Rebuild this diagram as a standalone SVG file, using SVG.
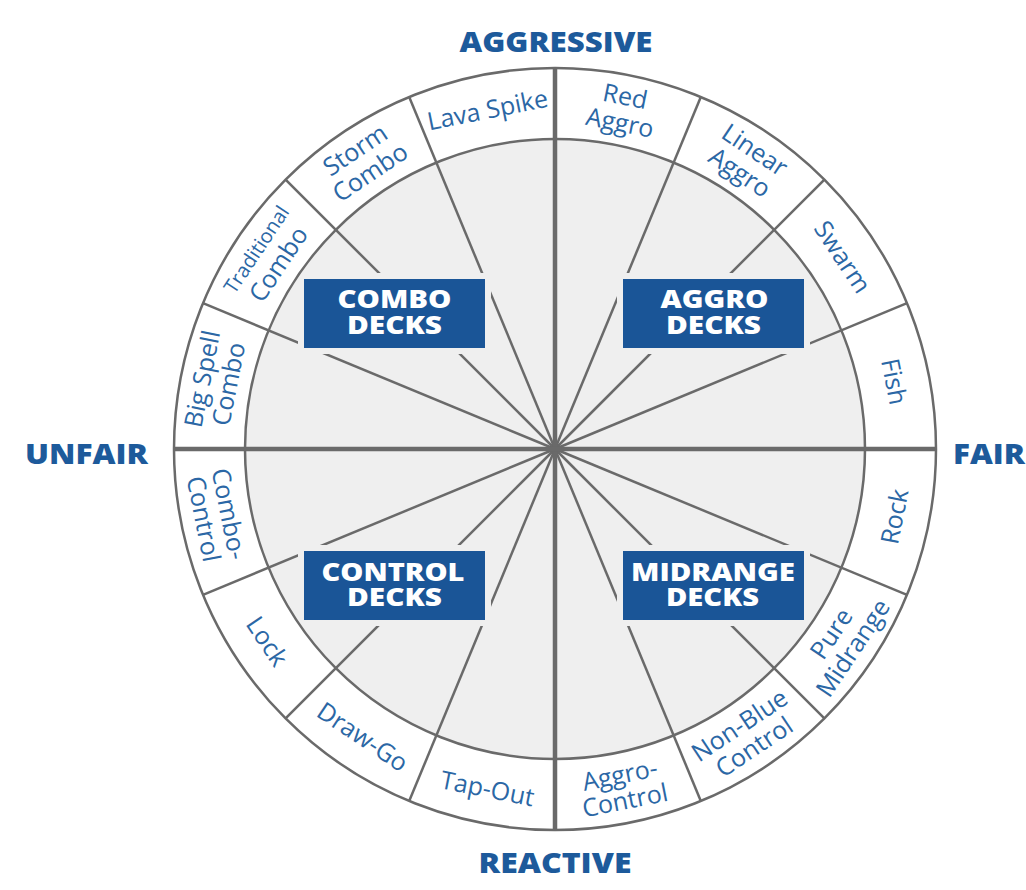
<svg xmlns="http://www.w3.org/2000/svg" width="1026" height="890" viewBox="0 0 1026 890">
  <style>
    .spoke { stroke: #6a6a6a; stroke-width: 2.5; fill: none; }
    .axis { stroke: #6a6a6a; stroke-width: 4.5; fill: none; }
    .ring { stroke: #6a6a6a; stroke-width: 2.5; }
    .lbl { font-family: "Open Sans", "Liberation Sans", sans-serif; font-size: 25px; fill: #2b67a5; text-anchor: middle; }
    .head { font-family: "Open Sans", "Liberation Sans", sans-serif; font-size: 29px; font-weight: 800; fill: #1d5a9b; }
    .box { fill: #1a5597; }
    .boxtxt { font-family: "Open Sans", "Liberation Sans", sans-serif; font-size: 24px; font-weight: 800; fill: #ffffff; text-anchor: middle; }
    .halo { fill: #efefef; }
  </style>
  <defs>
    <clipPath id="innerClip"><circle cx="555" cy="449" r="309"/></clipPath>
  </defs>
  <rect width="1026" height="890" fill="#ffffff"/>

  <!-- wheel background -->
  <circle cx="555" cy="449" r="381" fill="#ffffff"/>
  <circle cx="555" cy="449" r="310" fill="#efefef"/>

  <g id="connectors">
    <line class="spoke" x1="555" y1="449" x2="700.8" y2="97"/>
    <line class="spoke" x1="555" y1="449" x2="824.41" y2="179.59"/>
    <line class="spoke" x1="555" y1="449" x2="907" y2="303.2"/>
    <line class="spoke" x1="555" y1="449" x2="907" y2="594.8"/>
    <line class="spoke" x1="555" y1="449" x2="824.41" y2="718.41"/>
    <line class="spoke" x1="555" y1="449" x2="700.8" y2="801"/>
    <line class="spoke" x1="555" y1="449" x2="409.2" y2="801"/>
    <line class="spoke" x1="555" y1="449" x2="285.59" y2="718.41"/>
    <line class="spoke" x1="555" y1="449" x2="203" y2="594.8"/>
    <line class="spoke" x1="555" y1="449" x2="203" y2="303.2"/>
    <line class="spoke" x1="555" y1="449" x2="285.59" y2="179.59"/>
    <line class="spoke" x1="555" y1="449" x2="409.2" y2="97"/>
    <line class="axis" x1="555" y1="68" x2="555" y2="830"/>
    <line class="axis" x1="174" y1="449" x2="936" y2="449"/>
  </g>

  <!-- halos around deck boxes -->
  <g clip-path="url(#innerClip)">
    <rect class="halo" x="298" y="273" width="193" height="81"/>
    <rect class="halo" x="617" y="273" width="193" height="81"/>
    <rect class="halo" x="298" y="545" width="193" height="81"/>
    <rect class="halo" x="617" y="545" width="193" height="81"/>
  </g>

  <g id="wheel-rings">
    <circle class="ring" cx="555" cy="449" r="310" fill="none"/>
    <circle class="ring" cx="555" cy="449" r="381" fill="none"/>
  </g>

  <!-- axis headings -->
  <text id="aggressive" class="head" x="556" y="52" text-anchor="middle" textLength="193" lengthAdjust="spacingAndGlyphs">AGGRESSIVE</text>
  <text id="reactive" class="head" x="555" y="873" text-anchor="middle" textLength="153" lengthAdjust="spacingAndGlyphs">REACTIVE</text>
  <text id="unfair" class="head" x="25" y="464" textLength="123" lengthAdjust="spacingAndGlyphs">UNFAIR</text>
  <text id="fair" class="head" x="953" y="464" textLength="72" lengthAdjust="spacingAndGlyphs">FAIR</text>

  <!-- deck boxes -->
  <g id="combo-decks">
    <rect class="box" x="304" y="279" width="181" height="69"/>
    <text class="boxtxt" x="394.5" y="308" textLength="114" lengthAdjust="spacingAndGlyphs">COMBO</text>
    <text class="boxtxt" x="394.5" y="334" textLength="95" lengthAdjust="spacingAndGlyphs">DECKS</text>
  </g>
  <g id="aggro-decks">
    <rect class="box" x="623" y="279" width="181" height="69"/>
    <text class="boxtxt" x="714.5" y="308" textLength="108" lengthAdjust="spacingAndGlyphs">AGGRO</text>
    <text class="boxtxt" x="713.5" y="334" textLength="95" lengthAdjust="spacingAndGlyphs">DECKS</text>
  </g>
  <g id="control-decks">
    <rect class="box" x="304" y="551" width="181" height="69"/>
    <text class="boxtxt" x="393" y="581" textLength="143" lengthAdjust="spacingAndGlyphs">CONTROL</text>
    <text class="boxtxt" x="394.5" y="606" textLength="95" lengthAdjust="spacingAndGlyphs">DECKS</text>
  </g>
  <g id="midrange-decks">
    <rect class="box" x="623" y="551" width="181" height="69"/>
    <text class="boxtxt" x="713" y="581" textLength="164" lengthAdjust="spacingAndGlyphs">MIDRANGE</text>
    <text class="boxtxt" x="712.5" y="606" textLength="93" lengthAdjust="spacingAndGlyphs">DECKS</text>
  </g>

  <!-- ring labels, top half -->
  <g id="red-aggro" transform="translate(555 449) rotate(11.25)">
    <text class="lbl" x="0" y="-351">Red</text>
    <text class="lbl" x="0" y="-324">Aggro</text>
  </g>
  <g id="linear-aggro" transform="translate(555 449) rotate(33.75)">
    <text class="lbl" x="0" y="-351">Linear</text>
    <text class="lbl" x="0" y="-324">Aggro</text>
  </g>
  <g id="swarm" transform="translate(555 449) rotate(56.25)">
    <text class="lbl" x="0" y="-337">Swarm</text>
  </g>
  <g id="fish" transform="translate(555 449) rotate(78.75)">
    <text class="lbl" x="0" y="-337">Fish</text>
  </g>
  <g id="lava-spike" transform="translate(555 449) rotate(-11.25)">
    <text class="lbl" x="0" y="-337">Lava Spike</text>
  </g>
  <g id="storm-combo" transform="translate(555 449) rotate(-33.75)">
    <text class="lbl" x="0" y="-351">Storm</text>
    <text class="lbl" x="0" y="-324">Combo</text>
  </g>
  <g id="traditional-combo" transform="translate(555 449) rotate(-56.25)">
    <text class="lbl" x="0" y="-352" style="font-size:20px">Traditional</text>
    <text class="lbl" x="0" y="-324">Combo</text>
  </g>
  <g id="big-spell-combo" transform="translate(555 449) rotate(-78.75)">
    <text class="lbl" x="0" y="-351">Big Spell</text>
    <text class="lbl" x="0" y="-324">Combo</text>
  </g>

  <!-- ring labels, bottom half -->
  <g id="rock" transform="translate(555 449) rotate(-78.75)">
    <text class="lbl" x="0" y="355">Rock</text>
  </g>
  <g id="pure-midrange" transform="translate(555 449) rotate(-56.25)">
    <text class="lbl" x="0" y="341">Pure</text>
    <text class="lbl" x="0" y="367">Midrange</text>
  </g>
  <g id="non-blue-control" transform="translate(555 449) rotate(-33.75)">
    <text class="lbl" x="0" y="341">Non-Blue</text>
    <text class="lbl" x="0" y="367">Control</text>
  </g>
  <g id="aggro-control" transform="translate(555 449) rotate(-11.25)">
    <text class="lbl" x="0" y="341">Aggro-</text>
    <text class="lbl" x="0" y="367">Control</text>
  </g>
  <g id="tap-out" transform="translate(555 449) rotate(11.25)">
    <text class="lbl" x="0" y="355">Tap-Out</text>
  </g>
  <g id="draw-go" transform="translate(555 449) rotate(33.75)">
    <text class="lbl" x="0" y="355">Draw-Go</text>
  </g>
  <g id="lock" transform="translate(555 449) rotate(56.25)">
    <text class="lbl" x="0" y="355">Lock</text>
  </g>
  <g id="combo-control" transform="translate(555 449) rotate(78.75)">
    <text class="lbl" x="0" y="341">Combo-</text>
    <text class="lbl" x="0" y="367">Control</text>
  </g>
</svg>
